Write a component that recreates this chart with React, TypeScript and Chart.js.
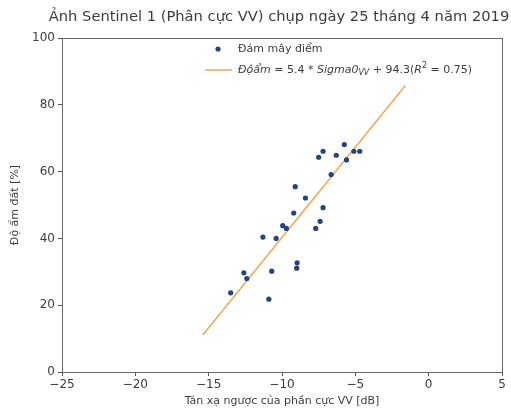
import React, { useEffect, useRef } from "react";
import { Chart, registerables } from "chart.js";

Chart.register(...registerables);

const TITLE = "Ảnh Sentinel 1 (Phân cực VV) chụp ngày 25 tháng 4 năm 2019";
const X_LABEL = "Tán xạ ngược của phần cực VV [dB]";
const Y_LABEL = "Độ ẩm đất [%]";
const POINT_LABEL = "Đám mây điểm";

const sigmaVV = [
  -13.5, -10.9, -12.6, -12.4, -10.7, -11.3, -10.4, -9.95, -9.7, -9.2, -9.1, -8.97, -9.0,
  -8.4, -7.7, -7.4, -7.2, -7.5, -7.2, -6.65, -6.3, -5.75, -5.6, -5.1, -4.7,
];
const soilMoisture = [
  23.7, 21.8, 29.7, 28.0, 30.2, 40.4, 40.0, 43.8, 43.0, 47.6, 55.5, 32.7, 31.1,
  52.1, 43.0, 45.1, 49.2, 64.3, 66.1, 59.1, 64.9, 68.1, 63.5, 66.1, 66.1,
];
const fitX = [-15.4, -1.6];
const fitY = [11.1, 85.7];

const xTicks = [-25, -20, -15, -10, -5, 0, 5];
const yTicks = [0, 20, 40, 60, 80, 100];

const FONT = "'DejaVu Sans', sans-serif";
const TEXT = "#3c3c3c";
const DOT = "#24447a";
const LINE = "#f3a552";

export default function App() {
  const ref = useRef<HTMLCanvasElement | null>(null);

  useEffect(() => {
    if (!ref.current) return;
    const decor = {
      id: "decor",
      afterDraw(chart: any) {
        const ctx = chart.ctx as CanvasRenderingContext2D;
        const a = chart.chartArea;
        ctx.save();
        // frame
        ctx.strokeStyle = "#666";
        ctx.lineWidth = 1;
        ctx.strokeRect(a.left + 0.5, a.top + 0.5, a.right - a.left, a.bottom - a.top);
        // title
        ctx.fillStyle = TEXT;
        ctx.textAlign = "center";
        ctx.textBaseline = "alphabetic";
        ctx.font = `14.7px ${FONT}`;
        ctx.fillText(TITLE, (a.left + a.right) / 2 - 3, a.top - 17);
        // x title
        ctx.font = `11px ${FONT}`;
        ctx.fillText(X_LABEL, (a.left + a.right) / 2, a.bottom + 32);
        // y title
        ctx.save();
        ctx.translate(18, (a.top + a.bottom) / 2);
        ctx.rotate(-Math.PI / 2);
        ctx.fillText(Y_LABEL, 0, 0);
        ctx.restore();
        // legend
        const lx = a.left + 143;
        const ly1 = a.top + 11;
        const ly2 = a.top + 32;
        ctx.fillStyle = DOT;
        ctx.beginPath();
        ctx.arc(lx + 13, ly1, 2.6, 0, Math.PI * 2);
        ctx.fill();
        ctx.strokeStyle = LINE;
        ctx.lineWidth = 1.5;
        ctx.beginPath();
        ctx.moveTo(lx, ly2);
        ctx.lineTo(lx + 27, ly2);
        ctx.stroke();
        ctx.fillStyle = TEXT;
        ctx.textAlign = "left";
        ctx.textBaseline = "middle";
        ctx.font = `11px ${FONT}`;
        ctx.fillText(POINT_LABEL, lx + 33, ly1);
        const parts: [string, string, number][] = [
          ["Độẩm", "italic 11px", 0],
          [" = 5.4 * ", "11px", 0],
          ["Sigma0", "italic 11px", 0],
          ["VV", "italic 8px", 3],
          [" + 94.3(", "11px", 0],
          ["R", "italic 11px", 0],
          ["2", "8px", -4],
          [" = 0.75)", "11px", 0],
        ];
        let tx = lx + 33;
        for (const [s, f, dy] of parts) {
          ctx.font = `${f} ${FONT}`;
          ctx.fillText(s, tx, ly2 + dy);
          tx += ctx.measureText(s).width;
        }
        ctx.restore();
      },
    };

    const chart = new Chart(ref.current, {
      type: "scatter",
      data: {
        datasets: [
          {
            label: POINT_LABEL,
            data: sigmaVV.map((x, i) => ({ x, y: soilMoisture[i] })),
            backgroundColor: DOT,
            borderColor: DOT,
            pointRadius: 2.6,
            borderWidth: 0,
          },
          {
            type: "line",
            label: "fit",
            data: fitX.map((x, i) => ({ x, y: fitY[i] })),
            borderColor: LINE,
            borderWidth: 1.5,
            pointRadius: 0,
            fill: false,
          } as any,
        ],
      },
      options: {
        responsive: false,
        animation: false,
        layout: { padding: { left: 0, right: 9, top: 38, bottom: 0 } },
        plugins: {
          legend: { display: false },
          title: { display: false },
          tooltip: { enabled: false },
        },
        scales: {
          x: {
            type: "linear",
            min: -25,
            max: 5,
            afterBuildTicks: (s: any) => {
              s.ticks = xTicks.map((v) => ({ value: v }));
            },
            afterFit: (s: any) => {
              s.height = 37;
            },
            ticks: {
              color: TEXT,
              font: { family: FONT, size: 12 },
              padding: 2,
              callback: (v: any) => String(v).replace("-", "\u2212"),
            },
            grid: {
              drawOnChartArea: false,
              drawTicks: true,
              tickLength: 4,
              color: "#555",
            },
            border: { display: false },
          },
          y: {
            type: "linear",
            min: 0,
            max: 100,
            afterBuildTicks: (s: any) => {
              s.ticks = yTicks.map((v) => ({ value: v }));
            },
            afterFit: (s: any) => {
              s.width = 62;
            },
            ticks: {
              color: TEXT,
              font: { family: FONT, size: 12 },
              padding: 3,
            },
            grid: {
              drawOnChartArea: false,
              drawTicks: true,
              tickLength: 4,
              color: "#555",
            },
            border: { display: false },
          },
        },
      },
      plugins: [decor],
    });
    return () => chart.destroy();
  }, []);

  return (
    <div style={{ position: "absolute", left: 0, top: 0, width: 511, height: 409, background: "#fff" }}>
      <canvas ref={ref} width={511} height={409} style={{ width: 511, height: 409 }} />
    </div>
  );
}
